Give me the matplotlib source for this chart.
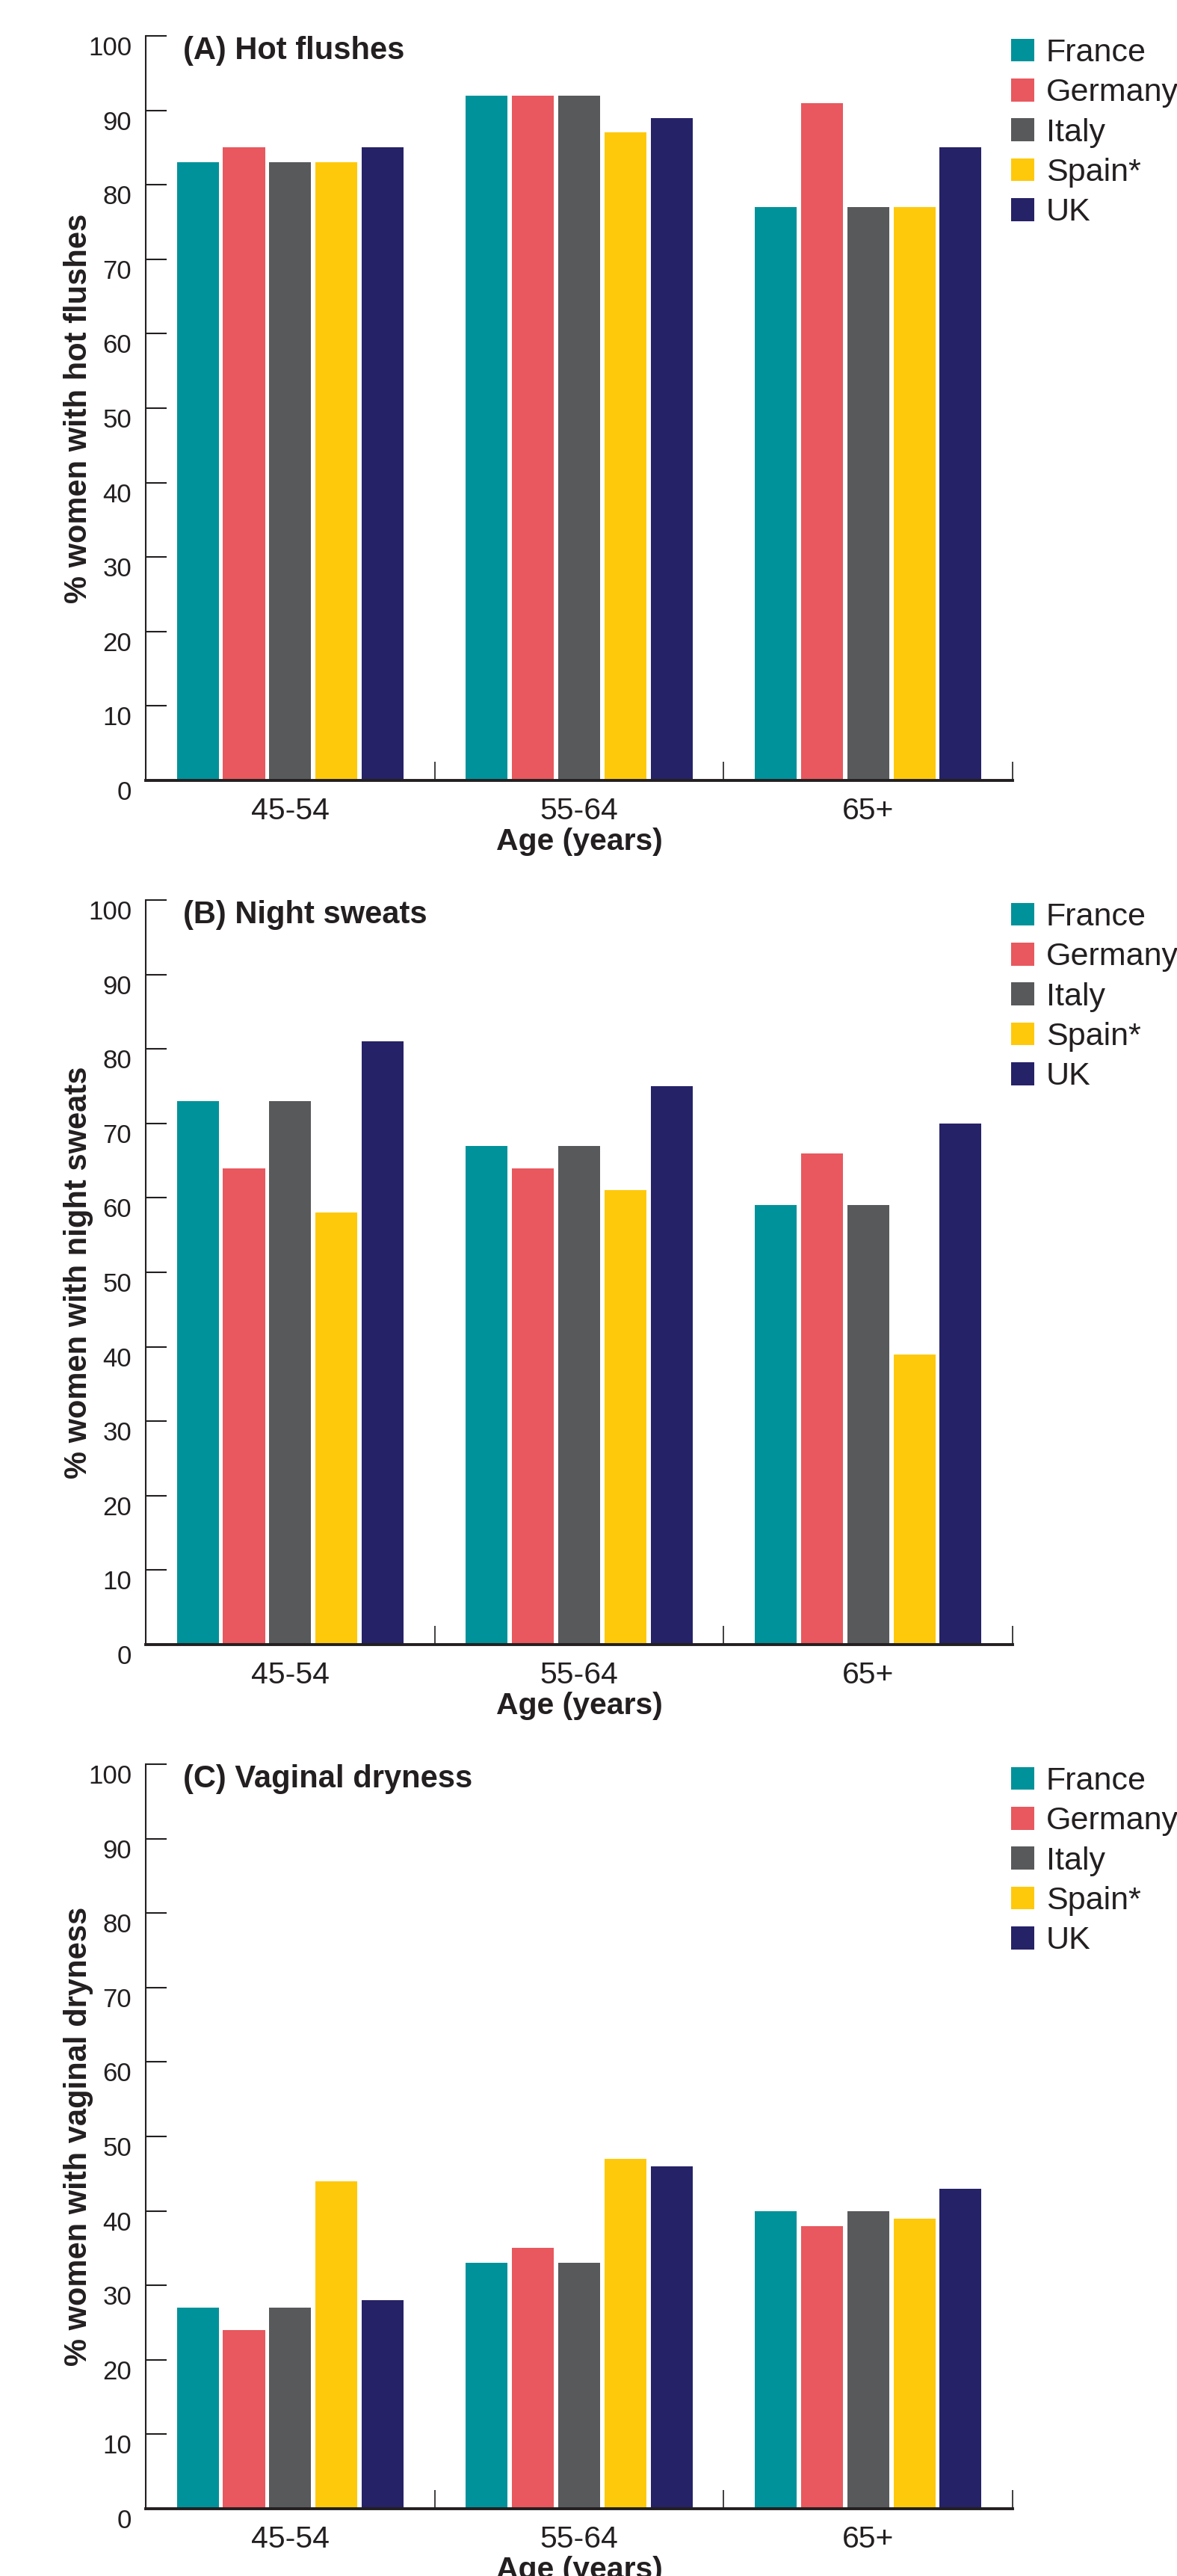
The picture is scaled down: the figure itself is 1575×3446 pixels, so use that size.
import matplotlib
matplotlib.use('Agg')
import matplotlib.pyplot as plt
import numpy as np

plt.rcParams['font.family'] = ['Liberation Sans', 'DejaVu Sans']

# categories
ages = ['45-54', '55-64', '65+']
countries = ['France', 'Germany', 'Italy', 'Spain*', 'UK']
colors = ['#00929A', '#E8585E', '#58595B', '#FFC90B', '#262267']

# % women per country (rows) and age group (columns)
hot_flushes = [[83, 92, 77],
               [85, 92, 91],
               [83, 92, 77],
               [83, 87, 77],
               [85, 89, 85]]
night_sweats = [[73, 67, 59],
                [64, 64, 66],
                [73, 67, 59],
                [58, 61, 39],
                [81, 75, 70]]
vaginal_dryness = [[27, 33, 40],
                   [24, 35, 38],
                   [27, 33, 40],
                   [44, 47, 39],
                   [28, 46, 43]]

panels = [
    ('(A) Hot flushes', '% women with hot flushes', hot_flushes),
    ('(B) Night sweats', '% women with night sweats', night_sweats),
    ('(C) Vaginal dryness', '% women with vaginal dryness', vaginal_dryness),
]

W, H = 1575, 3446
fig = plt.figure(figsize=(W / 100, H / 100), dpi=100)

# pixel bottoms of the three axes
bottoms_px = [1044, 2200, 3356]

for i, (title, ylabel, data) in enumerate(panels):
    ax = fig.add_axes([195 / W, 1 - bottoms_px[i] / H, 1160 / W, 996 / H])
    x = np.arange(len(ages))
    for j, (c, col) in enumerate(zip(countries, colors)):
        ax.bar(x + (j - 2) * 0.16, data[j], width=0.145, color=col, label=c)

    ax.set_xlim(-0.5, 2.5)
    ax.set_ylim(0, 100)
    ax.set_yticks(range(0, 101, 10))
    ax.set_xticks(x)
    ax.set_xticklabels(ages)
    ax.set_xticks([0.5, 1.5, 2.5], minor=True)
    ax.tick_params(axis='x', which='major', length=0, pad=16, labelsize=29.5,
                   labelcolor='#231F20')
    ax.tick_params(axis='x', which='minor', direction='in', length=18, width=1.2,
                   color='#231F20')
    ax.tick_params(axis='y', direction='in', length=20, width=1.5, pad=13.5,
                   labelsize=25, color='#231F20', labelcolor='#231F20')
    for lab in ax.get_yticklabels():
        lab.set_va('top')

    ax.spines['top'].set_visible(False)
    ax.spines['right'].set_visible(False)
    ax.spines['left'].set_linewidth(1.5)
    ax.spines['left'].set_color('#231F20')
    ax.spines['bottom'].set_linewidth(2.8)
    ax.spines['bottom'].set_color('#231F20')

    ax.set_xlabel('Age (years)', fontsize=29.5, fontweight='bold', labelpad=2,
                  color='#231F20')
    ax.set_ylabel(ylabel, fontsize=30, fontweight='bold', labelpad=-5,
                  color='#231F20')
    ax.text(0.043, 1.0, title, transform=ax.transAxes, fontsize=30,
            fontweight='bold', va='top', color='#231F20')

    ax.legend(loc='upper left', bbox_to_anchor=(0.998, 0.997), frameon=False,
              fontsize=31, handlelength=0.72, handleheight=0.72,
              handletextpad=0.37, labelspacing=0.31, borderpad=0,
              borderaxespad=0, labelcolor='#231F20')

fig.savefig('out.png', dpi=100)
